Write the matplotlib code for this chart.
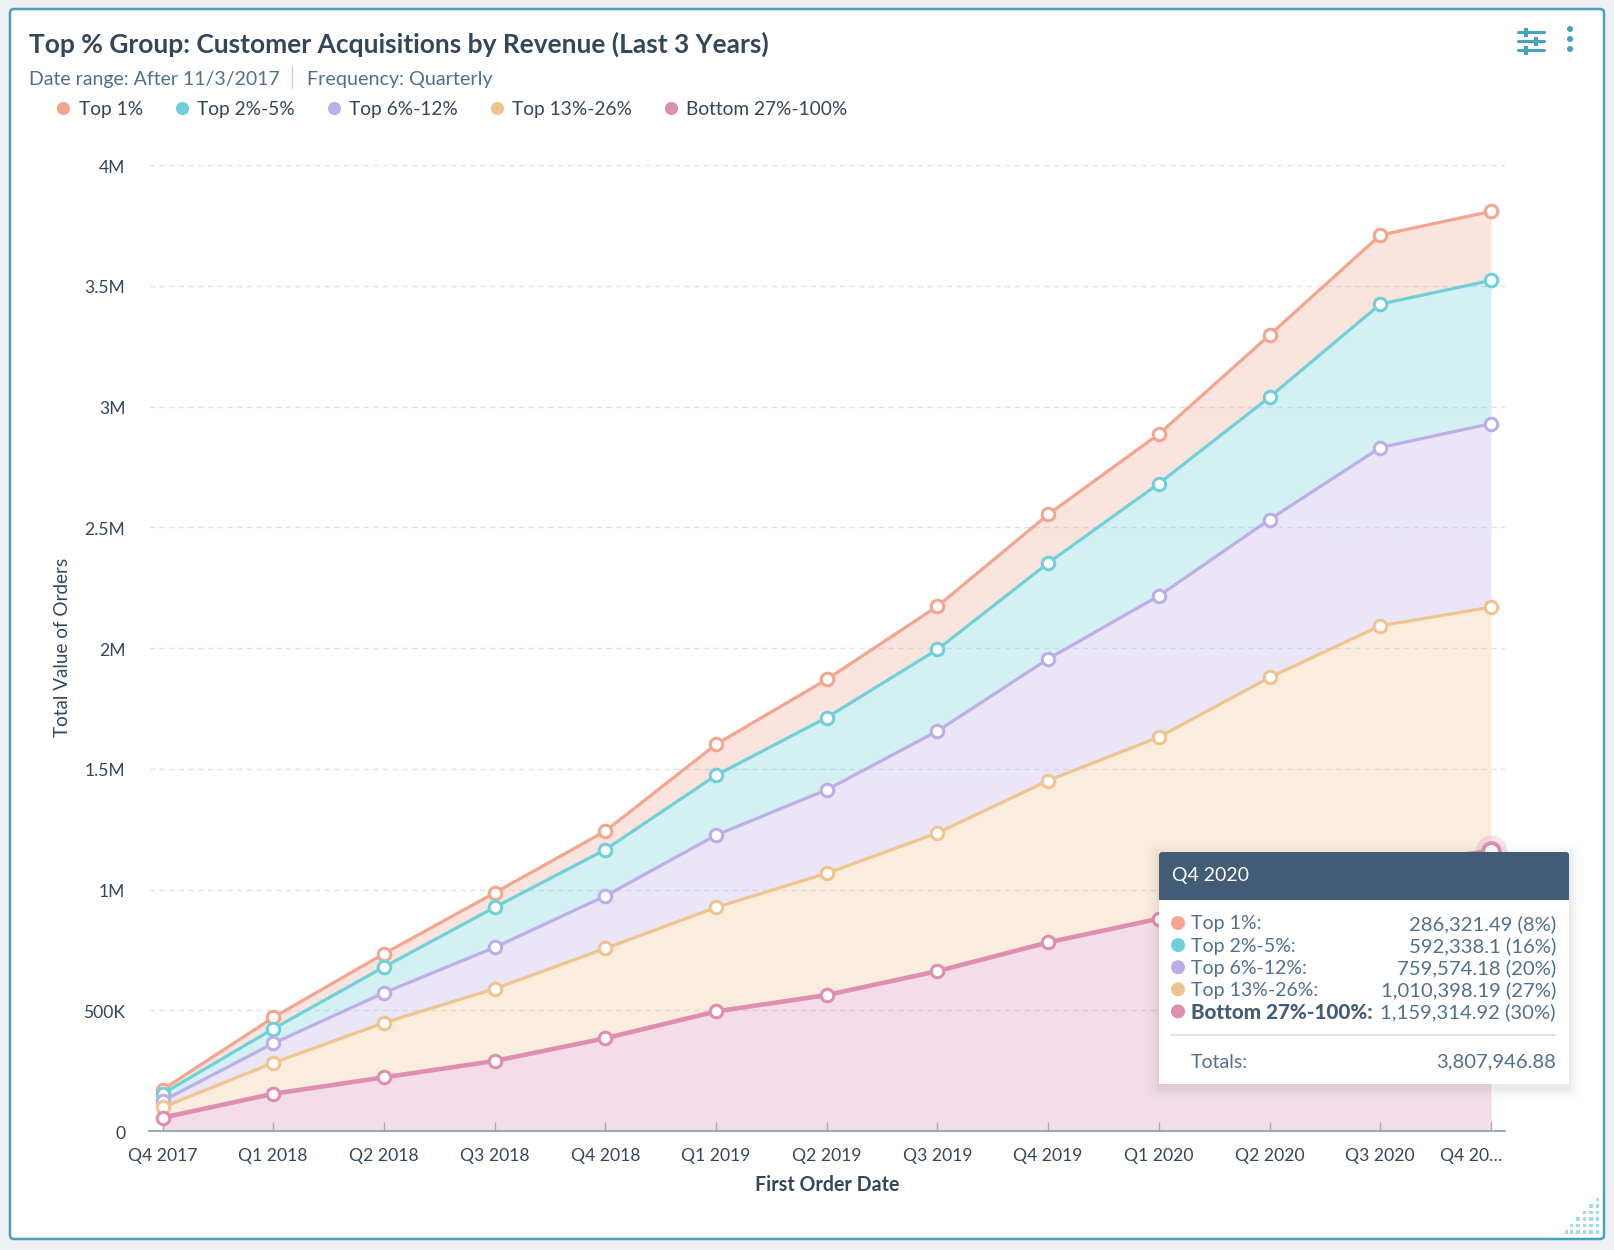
import numpy as np
import matplotlib
matplotlib.use("Agg")
import matplotlib.pyplot as plt
from matplotlib.lines import Line2D
from matplotlib.patches import FancyBboxPatch, Rectangle, Circle
from matplotlib.transforms import ScaledTranslation

W, H = 1614, 1250

quarters = ["Q4 2017", "Q1 2018", "Q2 2018", "Q3 2018", "Q4 2018", "Q1 2019", "Q2 2019",
            "Q3 2019", "Q4 2019", "Q1 2020", "Q2 2020", "Q3 2020", "Q4 20…"]
names = ["Top 1%", "Top 2%-5%", "Top 6%-12%", "Top 13%-26%", "Bottom 27%-100%"]
colors = ["#f2a68f", "#6fd0d8", "#bcaee6", "#f0c48f", "#de8fb0"]

# stacked levels, in millions
top_1 = [0.171, 0.470, 0.734, 0.986, 1.242, 1.601, 1.870, 2.173, 2.553, 2.886, 3.296, 3.710, 3.808]
top_2_5 = [0.154, 0.423, 0.679, 0.926, 1.165, 1.473, 1.712, 1.994, 2.352, 2.681, 3.039, 3.424, 3.522]
top_6_12 = [0.124, 0.363, 0.572, 0.760, 0.973, 1.225, 1.413, 1.656, 1.955, 2.216, 2.532, 2.830, 2.929]
top_13_26 = [0.098, 0.282, 0.448, 0.589, 0.756, 0.926, 1.067, 1.234, 1.451, 1.631, 1.878, 2.092, 2.169]
bottom_27 = [0.055, 0.154, 0.222, 0.290, 0.384, 0.495, 0.563, 0.662, 0.781, 0.879, 1.010, 1.100, 1.159]
levels = [top_1, top_2_5, top_6_12, top_13_26, bottom_27]

y_ticks = [0, 0.5, 1, 1.5, 2, 2.5, 3, 3.5, 4]
y_labels = ["0", "500K", "1M", "1.5M", "2M", "2.5M", "3M", "3.5M", "4M"]

tip_values = ["286,321.49 (8%)", "592,338.1 (16%)", "759,574.18 (20%)",
              "1,010,398.19 (27%)", "1,159,314.92 (30%)"]
tip_total = "3,807,946.88"

plt.rcParams["font.family"] = ["Lato", "DejaVu Sans"]
DARK = "#33475b"
SLATE = "#516f90"
FRAME = "#45a3bf"

fig = plt.figure(figsize=(W / 100, H / 100), dpi=100, facecolor="#eef0f3")

# card behind everything, pixel coordinates
back = fig.add_axes([0, 0, 1, 1], zorder=0)
back.set_xlim(0, W)
back.set_ylim(H, 0)
back.axis("off")
back.add_patch(FancyBboxPatch((10, 9), 1594, 1230, boxstyle="round,pad=0,rounding_size=4",
                              fc="white", ec=FRAME, lw=1.8))

# plot area
left, right, top, bottom = 149, 1505, 165, 1131
ax = fig.add_axes([left / W, 1 - bottom / H, (right - left) / W, (bottom - top) / H], zorder=1)
ax.patch.set_alpha(0)
x = np.arange(len(quarters))
step = (1491 - 162.5) / 12
ax.set_xlim((left - 162.5) / step, (right - 162.5) / step)
ax.set_ylim(0, 4)

ax.set_axisbelow(True)
ax.yaxis.grid(True, color="#dfe3eb", lw=1, ls=(0, (4, 3)))
for i, level in enumerate(levels):
    lower = levels[i + 1] if i < 4 else np.zeros(len(x))
    ax.fill_between(x, lower, level, color=colors[i], alpha=0.3, lw=0)
for i, level in enumerate(levels):
    ax.plot(x, level, color=colors[i], lw=3.3 if i == 4 else 2.3, marker="o", ms=9,
            mfc="white", mec=colors[i], mew=2.2, zorder=3 + i, clip_on=False)
# hovered point
ax.plot(x[-1], bottom_27[-1], "o", ms=23, color=colors[4], alpha=0.25, mew=0, zorder=8, clip_on=False)
ax.plot(x[-1], bottom_27[-1], "o", ms=12, mfc="white", mec=colors[4], mew=2.8, zorder=9, clip_on=False)

ax.set_xticks(x)
ax.set_xticklabels(quarters)
ax.set_yticks(y_ticks)
ax.set_yticklabels(y_labels)
ax.tick_params(axis="x", direction="in", length=6.5, width=1, color="#99acc2",
               labelsize=12.6, labelcolor=DARK, pad=12)
ax.tick_params(axis="y", length=0, labelsize=12.6, labelcolor=DARK, pad=17)
last = ax.get_xticklabels()[-1]
last.set_transform(last.get_transform() + ScaledTranslation(-20 / 100, 0, fig.dpi_scale_trans))
for lab in ax.get_yticklabels():
    lab.set_transform(lab.get_transform() + ScaledTranslation(0, -1.2 / 100, fig.dpi_scale_trans))
for side in ["top", "right", "left"]:
    ax.spines[side].set_visible(False)
ax.spines["bottom"].set_color("#8fa3bb")
ax.spines["bottom"].set_linewidth(1.3)

# overlay for header, legend and tooltip
over = fig.add_axes([0, 0, 1, 1], zorder=2)
over.set_xlim(0, W)
over.set_ylim(H, 0)
over.axis("off")
over.patch.set_alpha(0)

over.text(29, 44, "Top % Group: Customer Acquisitions by Revenue (Last 3 Years)", fontsize=19,
          fontweight="bold", color=DARK, va="center")
over.text(29, 79, "Date range: After 11/3/2017", fontsize=14, color=SLATE, va="center")
over.plot([292, 292], [66, 88], color="#cbd6e2", lw=1)
over.text(307, 79, "Frequency: Quarterly", fontsize=14.2, color=SLATE, va="center")
over.text(62, 647, "Total Value of Orders", fontsize=13.6, color=DARK, rotation=90, ha="center", va="center")
over.text(827, 1185, "First Order Date", fontsize=14.1, fontweight="bold", color=DARK, ha="center", va="center")

handles = [Line2D([], [], ls="", marker="o", ms=9.5, color=c, mew=0) for c in colors]
leg = over.legend(handles, names, ncol=5, frameon=False, fontsize=13.8, labelcolor=DARK,
                  loc="center left", bbox_to_anchor=(54.7 / W, 1 - 109.5 / H), bbox_transform=fig.transFigure,
                  handlelength=0.9, handletextpad=0.35, columnspacing=1.58, borderpad=0, borderaxespad=0)

# settings and menu icons
for yy, knob in [(32, 1526), (41, 1536), (50, 1526)]:
    over.plot([1518, 1544], [yy, yy], color=FRAME, lw=2.2, solid_capstyle="round")
    over.add_patch(Rectangle((knob - 2.5, yy - 4.5), 4, 9, fc=FRAME, ec=FRAME, lw=0))
    over.add_patch(Rectangle((knob + 1.5, yy - 3), 3, 6, fc="white", ec="white", lw=0))
for yy in [29, 39, 49]:
    over.add_patch(Circle((1570, yy), 3, fc=FRAME, ec=FRAME, lw=0))

# resize grip
grip_x = [1566.3, 1571.7, 1578, 1584.7, 1591, 1597.7]
grip_y = [1232, 1225.7, 1219, 1212.3, 1206, 1199.3]
for row, yy in enumerate(grip_y):
    for xx in grip_x[row:]:
        over.add_patch(Rectangle((xx - 1.7, yy - 1.7), 3.4, 3.4, fc="#a5dae6", ec="none"))

# tooltip
tx0, tx1, ty0, ty1, head = 1159, 1569, 852, 1084, 900
for grow, a in [(14, 0.012), (10, 0.015), (7, 0.02), (4, 0.025), (2, 0.03)]:
    over.add_patch(FancyBboxPatch((tx0 - grow, ty0 - grow + 4), tx1 - tx0 + 2 * grow, ty1 - ty0 + 2 * grow,
                                  boxstyle="round,pad=0,rounding_size=%d" % (grow + 1), fc="#33475b",
                                  ec="none", alpha=a))
over.add_patch(Rectangle((tx0, ty0), tx1 - tx0, ty1 - ty0, fc="white", ec="none"))
over.add_patch(FancyBboxPatch((tx0, ty0), tx1 - tx0, 20, boxstyle="round,pad=0,rounding_size=3",
                              fc="#425b76", ec="none"))
over.add_patch(Rectangle((tx0, ty0 + 6), tx1 - tx0, head - ty0 - 6, fc="#425b76", ec="none"))
over.text(1172, 876, "Q4 2020", fontsize=14, color="white", va="center")
for i, name in enumerate(names):
    yy = 923 + i * 22.1
    over.add_patch(Circle((1178, yy), 7, fc=colors[i], ec="none"))
    over.text(1191, yy + 1, name + ":", fontsize=14 if i < 4 else 14.8, color=SLATE if i < 4 else "#425b76",
              va="center", fontweight="normal" if i < 4 else "black")
    over.text(1556, yy + 1, tip_values[i], fontsize=14.6, color=SLATE, va="center", ha="right")
over.plot([1171, 1555], [1035, 1035], color="#dfe3eb", lw=1.4)
over.text(1191, 1062, "Totals:", fontsize=14, color=SLATE, va="center")
over.text(1556, 1062, tip_total, fontsize=14.6, color=SLATE, va="center", ha="right")

fig.savefig("out.png", dpi=100, facecolor=fig.get_facecolor())
